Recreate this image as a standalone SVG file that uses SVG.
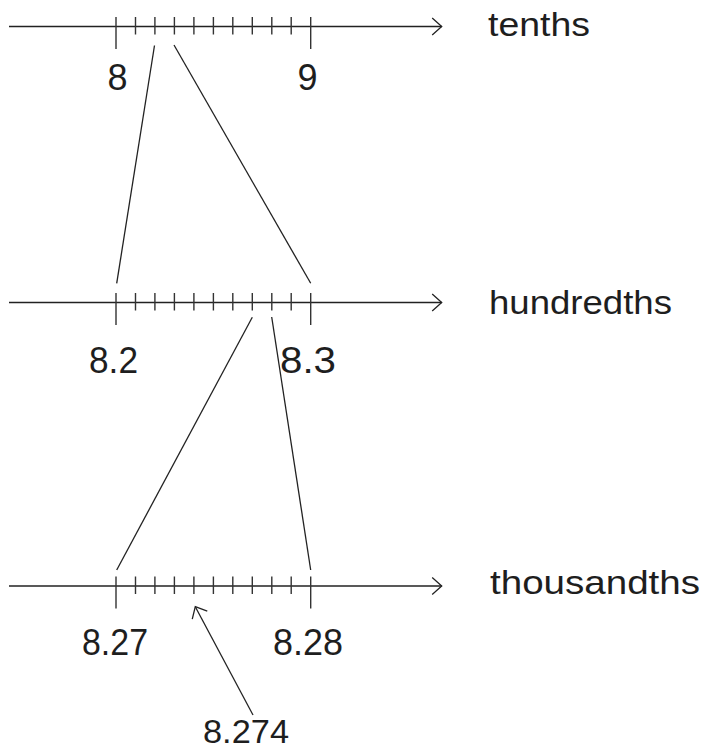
<svg xmlns="http://www.w3.org/2000/svg" width="705" height="752" viewBox="0 0 705 752">
<style>
  .ln{stroke:#222;stroke-width:1.3;fill:none;stroke-linecap:butt}
  .tk{stroke:#333;stroke-width:1.4;fill:none}
  .word{font-family:"Liberation Sans",Arial,sans-serif;font-size:34px;fill:#1e1e1e}
  .num{font-family:"Liberation Sans",Arial,sans-serif;font-size:36px;fill:#1e1e1e;text-anchor:middle}
</style>
<defs>
  <marker id="arr" markerUnits="userSpaceOnUse" markerWidth="24" markerHeight="24" viewBox="-12 -12 24 24" refX="0" refY="0" orient="auto">
    <path d="M-9.5,-8.5 L0,0 L-9.5,8.5" fill="none" stroke="#222" stroke-width="1.3"/>
  </marker>
  <g id="ticks" class="tk">
    <path d="M116,-9.5V22.5M310.7,-9.5V22.5"/>
    <path d="M135.5,-9.5V8M154.9,-9.5V8M174.4,-9.5V8M193.9,-9.5V8M213.4,-9.5V8M232.8,-9.5V8M252.3,-9.5V8M271.8,-9.5V8M291.2,-9.5V8"/>
  </g>
</defs>
<rect width="705" height="752" fill="#fff"/>

<g id="tenths-line">
  <line class="ln" x1="9" y1="26.5" x2="441.7" y2="26.5" marker-end="url(#arr)"/>
  <use href="#ticks" transform="translate(0,26.5)"/>
  <text class="num" x="117.5" y="90" textLength="26">8</text>
  <text class="num" x="307.5" y="90" textLength="24">9</text>
  <text class="word" x="488" y="35.5" textLength="102" lengthAdjust="spacingAndGlyphs">tenths</text>
</g>

<g id="hundredths-line">
  <line class="ln" x1="9" y1="302.5" x2="441.7" y2="302.5" marker-end="url(#arr)"/>
  <use href="#ticks" transform="translate(0,302.5)"/>
  <text class="num" x="113.5" y="373" textLength="49" lengthAdjust="spacingAndGlyphs">8.2</text>
  <text class="num" x="308" y="373" textLength="56" lengthAdjust="spacingAndGlyphs">8.3</text>
  <text class="word" x="489" y="313.5" textLength="183" lengthAdjust="spacingAndGlyphs">hundredths</text>
</g>

<g id="thousandths-line">
  <line class="ln" x1="9" y1="586" x2="441.7" y2="586" marker-end="url(#arr)"/>
  <use href="#ticks" transform="translate(0,586)"/>
  <text class="num" x="115" y="655" textLength="66" lengthAdjust="spacingAndGlyphs">8.27</text>
  <text class="num" x="308" y="655" textLength="70" lengthAdjust="spacingAndGlyphs">8.28</text>
  <text class="word" x="490" y="593.5" textLength="210" lengthAdjust="spacingAndGlyphs">thousandths</text>
</g>

<g id="answer-label">
  <text class="num" x="246" y="743" font-size="33" textLength="86" lengthAdjust="spacingAndGlyphs" style="font-size:33px">8.274</text>
</g>

<g id="connectors">
  <line class="ln" x1="154.5" y1="45.5" x2="116.7" y2="283.3"/>
  <line class="ln" x1="174" y1="45" x2="310.7" y2="283.3"/>
  <line class="ln" x1="252.3" y1="317.3" x2="116.7" y2="570"/>
  <line class="ln" x1="271.7" y1="317" x2="310.7" y2="570"/>
  <line class="ln" x1="253" y1="715" x2="195.3" y2="606.7" marker-end="url(#arr)"/>
</g>
</svg>
